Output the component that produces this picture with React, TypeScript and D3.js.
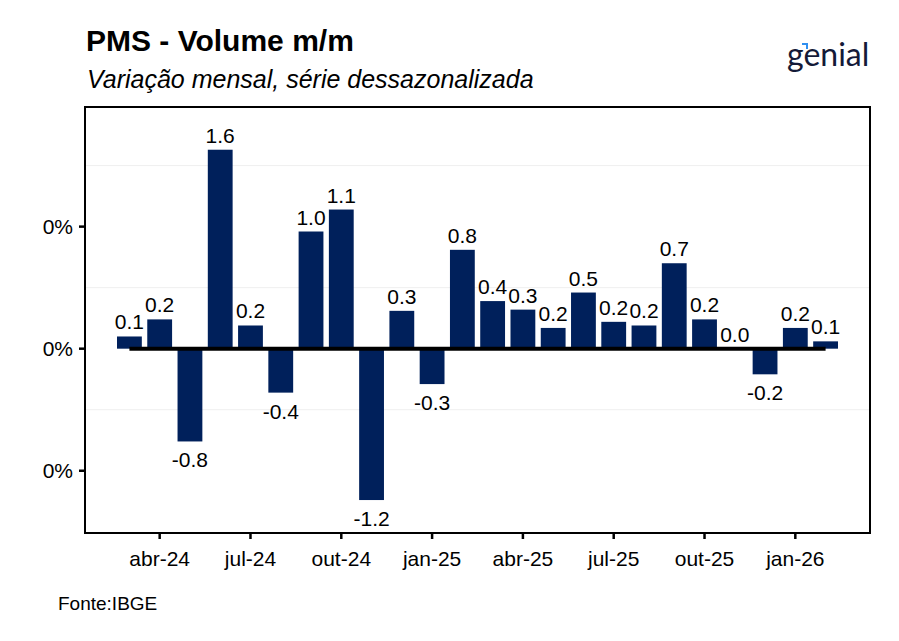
import * as d3 from 'd3';
import React from 'react';

const months = [
  'mar-24', 'abr-24', 'mai-24', 'jun-24', 'jul-24', 'ago-24', 'set-24', 'out-24',
  'nov-24', 'dez-24', 'jan-25', 'fev-25', 'mar-25', 'abr-25', 'mai-25', 'jun-25',
  'jul-25', 'ago-25', 'set-25', 'out-25', 'nov-25', 'dez-25', 'jan-26', 'fev-26',
];
const values = [
  0.1, 0.24, -0.76, 1.63, 0.19, -0.36, 0.96, 1.14, -1.24, 0.31, -0.29, 0.81,
  0.39, 0.32, 0.17, 0.46, 0.22, 0.19, 0.7, 0.24, 0.0, -0.21, 0.17, 0.06,
];
const xTicks = ['abr-24', 'jul-24', 'out-24', 'jan-25', 'abr-25', 'jul-25', 'out-25', 'jan-26'];
const yTicks = [-1, 0, 1];
const yMinor = [-0.5, 0.5, 1.5];

const W = 899;
const H = 641;
const panel = { left: 85, right: 870, top: 107, bottom: 533 };
const font = '"Liberation Sans", Arial, sans-serif';
const navy = '#00205b';

// the original labels every y tick as "0%"
const yFormat = (_d: number) => '0%';

const App: React.FC = () => {
  const x = d3.scaleBand<string>().domain(months).range([117, 838]).paddingInner(0.18);
  const y = d3.scaleLinear().domain([-1.51, 1.98]).range([panel.bottom, panel.top]);
  const half = x.bandwidth() / 2;

  return (
    <svg width={W} height={H} style={{ position: 'absolute', left: 0, top: 0, background: '#fff' }}>
      {/* titles */}
      <text x={86} y={51} fontFamily={font} fontWeight="bold" fontSize={30} fill="#000">
        PMS - Volume m/m
      </text>
      <text x={87} y={88} fontFamily={font} fontStyle="italic" fontSize={25} fill="#000">
        Variação mensal, série dessazonalizada
      </text>

      {/* logo */}
      <g>
        <text x={787} y={66} fontFamily='"Lato", "Open Sans", sans-serif' fontSize={32} fill="#141a38">
          genial
        </text>
        <path d="M802,43 L808,43 L808,49 L806,49 L806,45 L802,45 Z" fill="#2f8ff0" />
      </g>

      {/* gridlines */}
      {yMinor.map((v) => (
        <line key={`mg${v}`} x1={panel.left} x2={panel.right} y1={y(v)} y2={y(v)} stroke="#efefef" strokeWidth={1} />
      ))}

      {/* bars */}
      {months.map((m, i) => {
        const v = values[i];
        return (
          <rect
            key={m}
            x={x(m)}
            width={x.bandwidth()}
            y={Math.min(y(v), y(0))}
            height={Math.abs(y(v) - y(0))}
            fill={navy}
          />
        );
      })}

      {/* zero line */}
      <line
        x1={(x(months[0]) ?? 0) + half}
        x2={(x(months[months.length - 1]) ?? 0) + half}
        y1={y(0)}
        y2={y(0)}
        stroke="#000"
        strokeWidth={4}
      />

      {/* value labels */}
      {months.map((m, i) => {
        const v = values[i];
        const cx = (x(m) ?? 0) + half;
        const ty = v >= 0 ? y(v) - 7 : y(v) + 26;
        return (
          <text key={`l${m}`} x={cx} y={ty} textAnchor="middle" fontFamily={font} fontSize={21} fill="#000">
            {v.toFixed(1)}
          </text>
        );
      })}

      {/* panel border */}
      <rect
        x={panel.left}
        y={panel.top}
        width={panel.right - panel.left}
        height={panel.bottom - panel.top}
        fill="none"
        stroke="#000"
        strokeWidth={2}
      />

      {/* y axis */}
      {yTicks.map((v) => (
        <g key={`yt${v}`}>
          <line x1={panel.left - 6} x2={panel.left} y1={y(v)} y2={y(v)} stroke="#000" strokeWidth={2.5} />
          <text x={73} y={y(v) + 7} textAnchor="end" fontFamily={font} fontSize={21} fill="#000">
            {yFormat(v)}
          </text>
        </g>
      ))}

      {/* x axis */}
      {xTicks.map((m) => {
        const cx = (x(m) ?? 0) + half;
        return (
          <g key={`xt${m}`}>
            <line x1={cx} x2={cx} y1={panel.bottom} y2={panel.bottom + 6} stroke="#000" strokeWidth={2.5} />
            <text x={cx} y={566} textAnchor="middle" fontFamily={font} fontSize={21} fill="#000">
              {m}
            </text>
          </g>
        );
      })}

      {/* source */}
      <text x={58} y={610} fontFamily={font} fontSize={19} fill="#000">
        Fonte:IBGE
      </text>
    </svg>
  );
};

export default App;
